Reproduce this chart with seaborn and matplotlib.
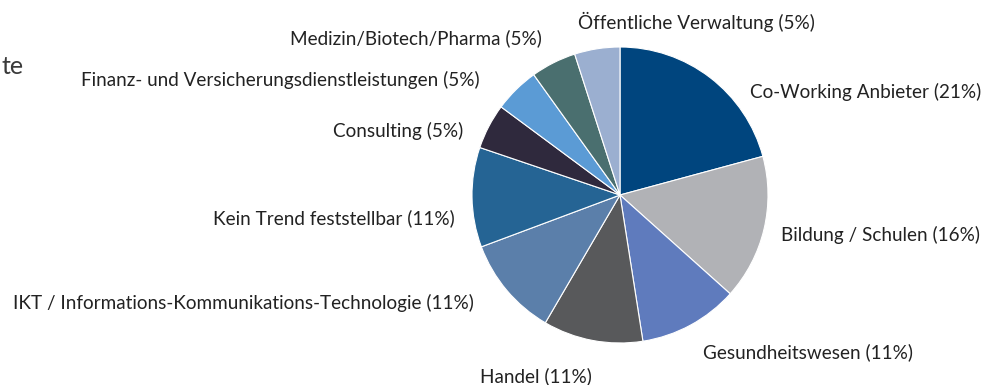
import matplotlib
matplotlib.use("Agg")
import matplotlib.pyplot as plt
import seaborn as sns

# Branchen and their shares (%), clockwise from the top
categories = [
    "Co-Working Anbieter",
    "Bildung / Schulen",
    "Gesundheitswesen",
    "Handel",
    "IKT / Informations-Kommunikations-Technologie",
    "Kein Trend feststellbar",
    "Consulting",
    "Finanz- und Versicherungsdienstleistungen",
    "Medizin/Biotech/Pharma",
    "Öffentliche Verwaltung",
]
shares = [21, 16, 11, 11, 11, 11, 5, 5, 5, 5]

colors = [
    "#00457e", "#b1b2b6", "#5f7bbd", "#58595b", "#5b7faa",
    "#256494", "#2f293d", "#5b9bd5", "#4a6f6f", "#9bafd0",
]

# label anchor (x, y in pixel space, y up) and horizontal alignment
label_pos = [
    (750, 293, "left"),
    (781, 150, "left"),
    (703, 33, "left"),
    (536, 9, "center"),
    (474, 82, "right"),
    (455, 167, "right"),
    (463, 254, "right"),
    (480, 305, "right"),
    (542, 347, "right"),
    (696, 363, "center"),
]

sns.set_theme(style="white")
plt.rcParams["font.family"] = ["Lato", "DejaVu Sans"]

W, H = 992, 385
fig = plt.figure(figsize=(W / 100, H / 100), dpi=100)
ax = fig.add_axes([0, 0, 1, 1])
ax.set_xlim(0, W)
ax.set_ylim(0, H)
ax.set_aspect("equal")
ax.axis("off")

ax.pie(
    shares,
    colors=colors,
    startangle=90,
    counterclock=False,
    center=(620, 190),
    radius=148,
    wedgeprops=dict(edgecolor="white", linewidth=0.8),
)
ax.set_xlim(0, W)
ax.set_ylim(0, H)

for name, val, (x, y, ha) in zip(categories, shares, label_pos):
    ax.text(x, y, f"{name} ({val}%)", ha=ha, va="center",
            fontsize=13.6, color="#222222")

# tail of a heading that continues beyond the left border
ax.text(1, 318, "te", ha="left", va="center", fontsize=18,
        color="#3a3a3a")

fig.savefig("out.png", dpi=100)
